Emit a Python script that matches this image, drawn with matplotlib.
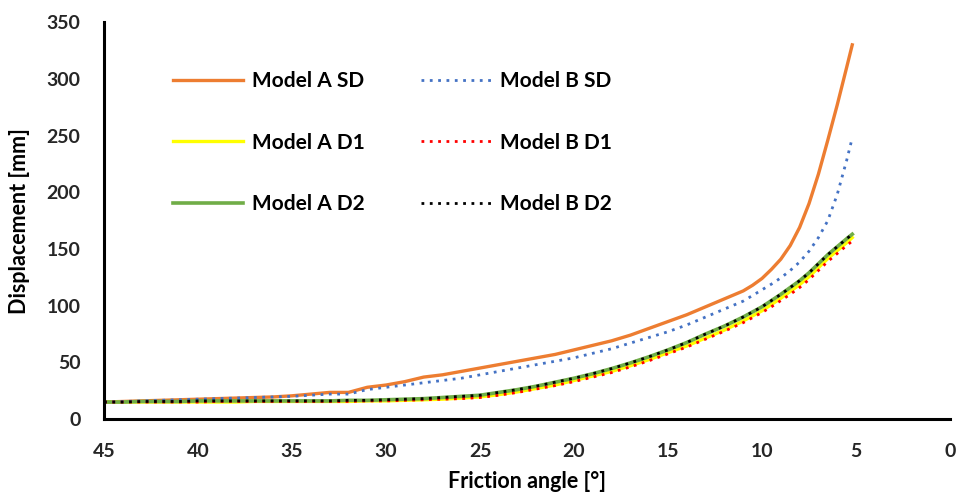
import matplotlib
matplotlib.use("Agg")
import matplotlib.pyplot as plt

angle = [45, 44, 43, 42, 41, 40, 39, 38, 37, 36, 35, 34, 33, 32, 31, 30, 29, 28, 27, 26,
         25, 24, 23, 22, 21, 20, 19, 18, 17, 16, 15, 14, 13, 12,
         11, 10.5, 10, 9.5, 9, 8.5, 8, 7.5, 7, 6.5, 6, 5.5, 5.2]

model_a_sd = [15, 15.5, 16, 16.5, 17, 17.5, 18, 18.5, 19, 19.5, 20.5, 22, 23.5, 23.5, 28, 30,
              33, 37, 39, 42, 45, 48, 51, 54, 57, 61, 65, 69, 74, 80, 86, 92, 99, 106,
              113, 118, 124, 132, 141, 153, 169, 190, 216, 246, 277, 310, 330]
model_a_d1 = [15, 15, 15, 15, 15, 15, 15, 15, 15.5, 15.5, 15.5, 15.5, 15.5, 15.5, 16, 16,
              16.5, 17, 17.5, 18.5, 19.5, 21.5, 24, 27, 30, 34, 38, 42, 47, 52.5, 58.5, 64.5,
              71.5, 78.5,
              86.5, 91, 95.5, 101, 106.5, 112.5, 118.5, 125.5, 133.5, 141.5, 148.5, 155.5, 160]
model_a_d2 = [15, 15, 15.5, 15.5, 15.5, 16, 16, 16, 16, 16, 16, 16, 16, 16.5, 16.5, 17,
              17.5, 18, 19, 20, 21, 23.5, 26, 29, 32.5, 36, 40, 44.5, 49.5, 55, 61, 67.5,
              75, 82,
              90, 94.5, 99, 104.5, 110, 116, 122, 129, 137, 145, 152, 159, 163]
model_b_sd = [15, 15.5, 16, 16.5, 17, 17.5, 18, 18.5, 19, 19.5, 20, 21, 22, 22, 26, 28, 30,
              32, 34, 36, 39, 42, 45, 48, 51, 54, 58, 62, 67, 72, 77, 83, 90, 97,
              104, 109, 114, 119, 124.5, 131, 138.5, 148, 160, 175, 198, 228, 248]
model_b_d1 = [15, 15, 15, 15, 15, 15, 15.5, 15.5, 15.5, 15.5, 15.5, 15.5, 15.5, 15.5, 16,
              16, 16.5, 17, 17.5, 18, 19, 21, 23.5, 26.5, 29.5, 33, 37, 41, 46, 51.5, 57.5,
              63.5, 70.5, 77.5,
              85, 89.5, 94, 99, 104.5, 110, 116, 123, 131, 139, 146, 153, 157]
model_b_d2 = [15, 15, 15.5, 15.5, 15.5, 16, 16, 16, 16, 16, 16, 16, 16, 16.5, 16.5, 17,
              17.5, 18, 19, 20, 21, 23.5, 26, 29, 32.5, 36, 40, 44.5, 49.5, 55, 61, 67.5,
              75, 82,
              90, 94.5, 99, 104.5, 110, 116, 122, 129, 137, 145, 152, 159, 163]

x_ticks = [45, 40, 35, 30, 25, 20, 15, 10, 5, 0]
y_ticks = [0, 50, 100, 150, 200, 250, 300, 350]

plt.rcParams['font.family'] = ['Lato', 'DejaVu Sans']

fig = plt.figure(figsize=(9.57, 4.93), dpi=100)
ax = fig.add_axes([0.1087, 0.150, 0.884, 0.805])

dot = (0, (1, 2))
ax.plot(angle, model_a_sd, color='#ED7D31', lw=2.4, label='Model A SD')
ax.plot(angle, model_a_d1, color='#FFFF00', lw=2.4, label='Model A D1')
ax.plot(angle, model_a_d2, color='#70AD47', lw=2.6, label='Model A D2')
ax.plot(angle, model_b_sd, color='#4472C4', lw=2.0, ls=dot, label='Model B SD')
ax.plot(angle, model_b_d1, color='#FF0000', lw=2.0, ls=dot, label='Model B D1')
ax.plot(angle, model_b_d2, color='#000000', lw=2.0, ls=dot, label='Model B D2')

ax.set_xlim(45, 0)
ax.set_ylim(0, 350)
ax.set_xticks(x_ticks)
ax.set_yticks(y_ticks)
ax.tick_params(length=0, labelsize=14)
ax.tick_params(axis='y', pad=17)
ax.tick_params(axis='x', pad=17)
for lab in ax.get_xticklabels() + ax.get_yticklabels():
    lab.set_fontweight('bold')
    lab.set_color('#262626')

for s in ['top', 'right']:
    ax.spines[s].set_visible(False)
for s in ['left', 'bottom']:
    ax.spines[s].set_linewidth(2.2)
    ax.spines[s].set_color('black')

ax.set_xlabel('Friction angle [°]', fontsize=15.5, fontweight='bold', labelpad=8)
ax.set_ylabel('Displacement [mm]', fontsize=15.5, fontweight='bold', labelpad=6)
ax.yaxis.set_label_coords(-0.088, 0.5)

leg = ax.legend(ncol=2, frameon=False, loc='upper left',
                bbox_to_anchor=(0.181, 0.855), bbox_transform=fig.transFigure,
                fontsize=15, handlelength=3.35, handletextpad=0.43,
                labelspacing=1.98, columnspacing=2.7, borderpad=0, borderaxespad=0)
for t in leg.get_texts():
    t.set_fontweight('bold')

fig.savefig('out.png', dpi=100)
